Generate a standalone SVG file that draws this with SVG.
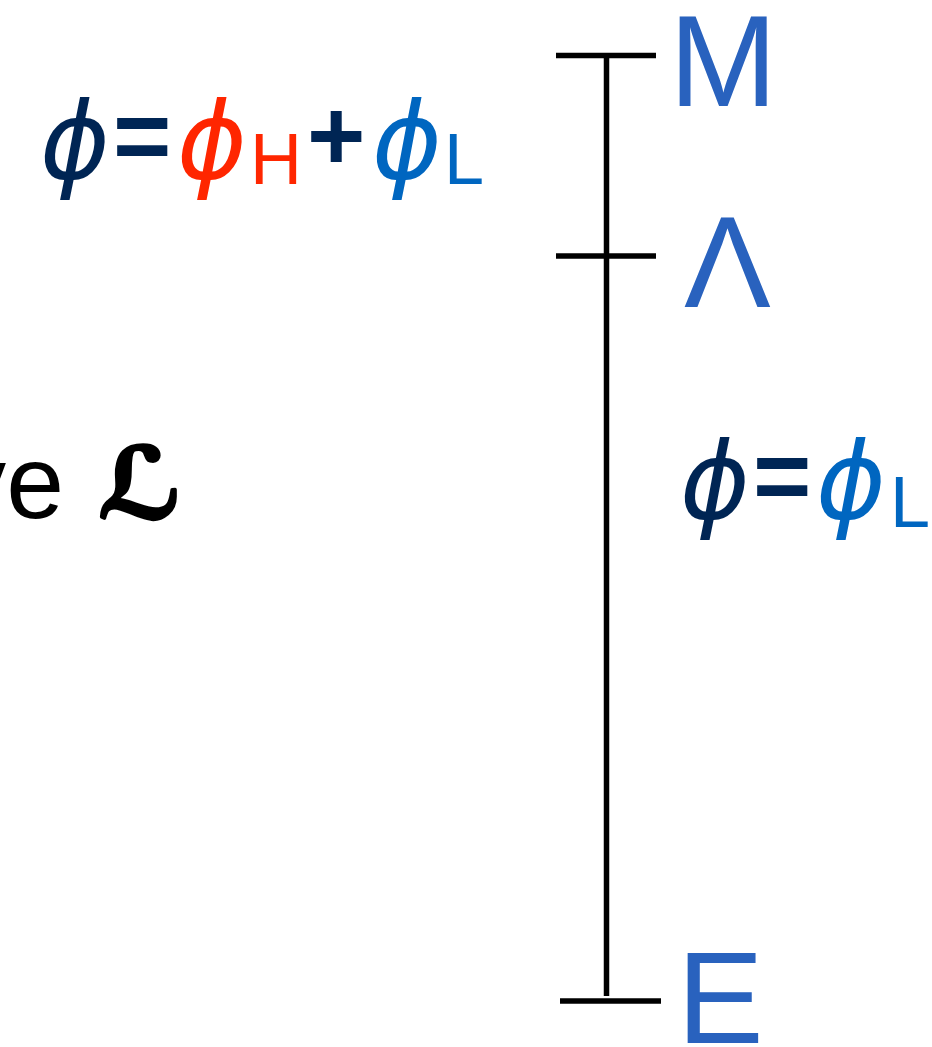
<svg xmlns="http://www.w3.org/2000/svg" width="932" height="1047" viewBox="0 0 932 1047">
<style>
.lbl{font-family:"Liberation Sans",Arial,sans-serif;fill:#2962BE;font-size:130px}
.phi{font-family:"DejaVu Sans",sans-serif;font-style:italic;font-size:106px}
.op{font-family:"Liberation Sans",Arial,sans-serif;font-weight:bold;font-size:100px;fill:#002554}
.sub{font-family:"Liberation Sans",Arial,sans-serif;font-size:72px}
.navy{fill:#002554}.red{fill:#FF2600}.blue{fill:#0066C0}
.ax{stroke:#000;stroke-width:5.5;fill:none}
</style>
<rect width="932" height="1047" fill="#fff"/>
<g id="connectors">
<line class="ax" x1="606.5" y1="55" x2="606.5" y2="996"/>
<line class="ax" x1="556" y1="55.5" x2="656" y2="55.5"/>
<line class="ax" x1="556" y1="256" x2="656" y2="256"/>
<line class="ax" x1="560" y1="1001" x2="661" y2="1001"/>
</g>
<g id="node-M"><text class="lbl" x="669" y="106">M</text></g>
<g id="node-Lambda"><text class="lbl" x="684" y="307">Λ</text></g>
<g id="node-E"><text class="lbl" x="677" y="1043">E</text></g>
<g id="formula-top">
<text class="phi navy" x="40" y="178">ϕ</text>
<text class="op" x="113" y="170">=</text>
<text class="phi red" x="177" y="178">ϕ</text>
<text class="sub red" x="250" y="184">H</text>
<text class="op" x="307" y="170">+</text>
<text class="phi blue" x="372" y="178">ϕ</text>
<text class="sub blue" x="444" y="184">L</text>
</g>
<g id="formula-right">
<text class="phi navy" x="680" y="518">ϕ</text>
<text class="op" x="753" y="510">=</text>
<text class="phi blue" x="816" y="518">ϕ</text>
<text class="sub blue" x="890" y="527">L</text>
</g>
<g id="label-left">
<text x="64" y="518" text-anchor="end" style="font-family:'Liberation Sans',Arial,sans-serif;font-size:104px;fill:#000">ve</text>
<text x="98" y="518" style="font-family:'DejaVu Sans',sans-serif;font-weight:bold;font-style:italic;font-size:98px;fill:#000;stroke:#000;stroke-width:3.5;stroke-linejoin:round">ℒ</text>
</g>
</svg>
